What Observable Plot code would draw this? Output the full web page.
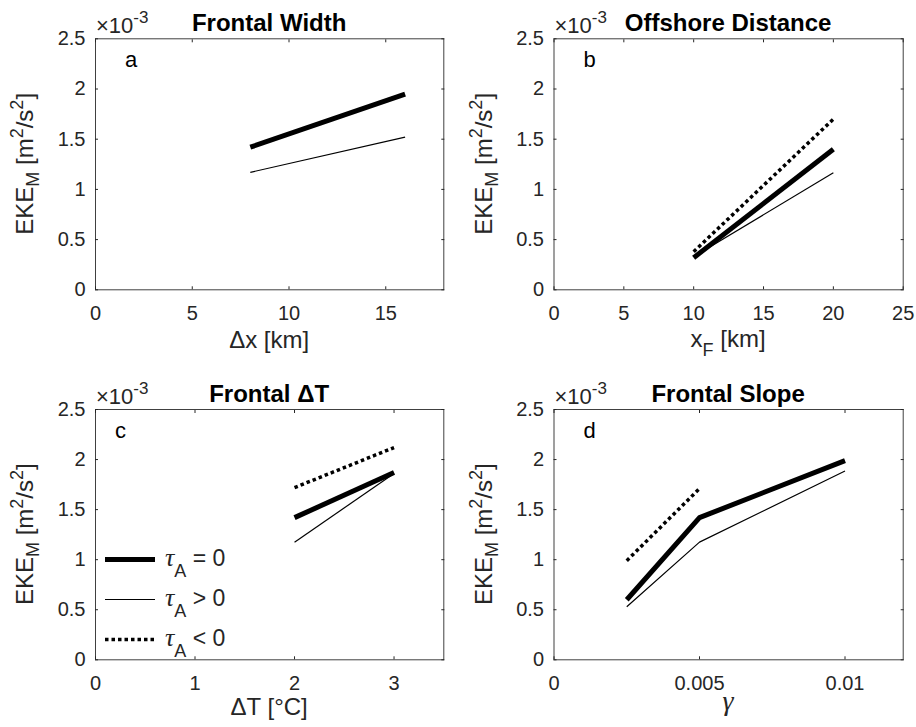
<!DOCTYPE html>
<html><head><meta charset="utf-8">
<script src="https://cdn.jsdelivr.net/npm/d3@7"></script>
<script src="https://cdn.jsdelivr.net/npm/@observablehq/plot@0.6"></script>
<style>
body{margin:0;background:#fff;}
#root{position:relative;width:916px;height:727px;overflow:hidden;background:#fff;}
.panel{position:absolute;}
</style></head><body><div id="root"></div>
<script>
// EKE_M values in units of 1e-3 m^2/s^2 (axis shows ×10^-3)
const aX = [8, 16];
const aZero = [1.42, 1.95];
const aPos = [1.17, 1.52];

const bX = [10, 20];
const bZero = [0.32, 1.40];
const bPos = [0.33, 1.165];
const bNeg = [0.38, 1.70];

const cX = [2, 3];
const cZero = [1.42, 1.87];
const cPos = [1.175, 1.86];
const cNeg = [1.72, 2.12];

const dX = [0.0025, 0.005, 0.01];
const dZero = [0.60, 1.42, 1.99];
const dPos = [0.53, 1.175, 1.885];
const dNeg = [0.99, 1.71];

const yTicks = [0, 0.5, 1, 1.5, 2, 2.5];
const aTicks = [0, 5, 10, 15];
const bTicks = [0, 5, 10, 15, 20, 25];
const cTicks = [0, 1, 2, 3];
const dTicks = [0, 0.005, 0.01];

const titles = ["Frontal Width", "Offshore Distance", "Frontal ΔT", "Frontal Slope"];
const letters = ["a", "b", "c", "d"];
const legendLabels = [["=", "0"], [">", "0"], ["<", "0"]];

const SANS = '"Liberation Sans", Arial, Helvetica, sans-serif';
const SERIF = '"Liberation Serif", "Times New Roman", serif';
const INK = "#262626";
const STY = {
  zero: {stroke: "#000", strokeWidth: 5},
  pos: {stroke: "#000", strokeWidth: 1.2},
  neg: {stroke: "#000", strokeWidth: 3.5, strokeDasharray: "3.5,3"}
};
const fmt = d => String(+(+d).toFixed(6));

function rows(xs, ys) { return ys.map((y, i) => ({x: xs[i], y})); }

function panel(cfg) {
  const marks = [Plot.frame({stroke: "#404040", strokeWidth: 1})];
  for (const [key, ys] of cfg.series) {
    marks.push(Plot.line(rows(cfg.x, ys), {x: "x", y: "y", ...STY[key], strokeLinecap: "butt", strokeLinejoin: "round"}));
  }
  marks.push(
    Plot.axisX({ticks: cfg.xTicks, anchor: "bottom", tickSize: -3, tickPadding: 18.5, tickFormat: fmt, fontSize: 20, color: INK, label: null}),
    Plot.axisX({ticks: cfg.xTicks, anchor: "top", tickSize: -3, tickFormat: () => "", color: INK, label: null}),
    Plot.axisY({ticks: yTicks, anchor: "left", tickSize: -3, tickPadding: 13, tickFormat: fmt, fontSize: 20, color: INK, label: null}),
    Plot.axisY({ticks: yTicks, anchor: "right", tickSize: -3, tickFormat: () => "", color: INK, label: null})
  );
  const svg = Plot.plot({
    width: cfg.w, height: cfg.h,
    marginLeft: cfg.ml, marginRight: cfg.mr, marginTop: cfg.mt, marginBottom: cfg.mb,
    x: {domain: cfg.xDomain, label: null},
    y: {domain: [0, 2.5], label: null},
    style: {fontFamily: SANS, color: INK, background: "transparent", overflow: "visible"},
    marks
  });
  const s = d3.select(svg);
  const pl = cfg.ml, pr = cfg.w - cfg.mr, pt = cfg.mt, pb = cfg.h - cfg.mb;
  const cx = (pl + pr) / 2, cy = (pt + pb) / 2;
  // title
  s.append("text").attr("x", cx).attr("y", pt - 7.5).attr("text-anchor", "middle")
    .attr("font-family", SANS).attr("font-weight", "bold").attr("font-size", 24).attr("fill", "#000")
    .text(cfg.title);
  // exponent
  const ex = s.append("text").attr("x", pl + 1).attr("y", pt - 5.5).attr("text-anchor", "start")
    .attr("font-family", SANS).attr("font-size", 22).attr("fill", INK);
  ex.append("tspan").text("×10");
  ex.append("tspan").attr("font-size", 17).attr("dy", -10).text("-3");
  // panel letter
  s.append("text").attr("x", pl + cfg.letterDx).attr("y", pt + 28.5).attr("text-anchor", "start")
    .attr("font-family", SANS).attr("font-size", 22).attr("fill", "#000").text(cfg.letter);
  // y label
  const yl = s.append("text").attr("transform", `translate(${pl - 62},${cy}) rotate(-90)`).attr("text-anchor", "middle")
    .attr("font-family", SANS).attr("font-size", 24).attr("fill", INK);
  yl.append("tspan").text("EKE");
  yl.append("tspan").attr("font-size", 18).attr("dy", 6).text("M");
  yl.append("tspan").attr("dy", -6).text(" [m");
  yl.append("tspan").attr("font-size", 18).attr("dy", -10).text("2");
  yl.append("tspan").attr("dy", 10).text("/s");
  yl.append("tspan").attr("font-size", 18).attr("dy", -10).text("2");
  yl.append("tspan").attr("dy", 10).text("]");
  // x label
  const xl = s.append("text").attr("x", cx).attr("y", pb + cfg.xlDy).attr("text-anchor", "middle")
    .attr("font-family", SANS).attr("font-size", 24).attr("fill", INK);
  cfg.xlabel(xl);
  if (cfg.legend) drawLegend(s, pl);
  const div = document.createElement("div");
  div.className = "panel";
  div.style.left = cfg.left + "px";
  div.style.top = cfg.top + "px";
  div.appendChild(svg);
  document.getElementById("root").appendChild(div);
}

function drawLegend(s, pl) {
  const keys = ["zero", "pos", "neg"];
  keys.forEach((k, i) => {
    const y = 199.5 + i * 40;
    const st = STY[k];
    s.append("line").attr("x1", pl + 10).attr("x2", pl + 60).attr("y1", y).attr("y2", y)
      .attr("stroke", st.stroke).attr("stroke-width", st.strokeWidth)
      .attr("stroke-dasharray", st.strokeDasharray || null);
    const t = s.append("text").attr("x", pl + 70).attr("y", y + 6).attr("text-anchor", "start")
      .attr("font-family", SANS).attr("font-size", 23).attr("fill", INK);
    t.append("tspan").attr("font-family", SERIF).attr("font-style", "italic").attr("font-size", 26).text("τ");
    t.append("tspan").attr("font-size", 18).attr("dy", 11).text("A");
    t.append("tspan").attr("dy", -11).text(" " + legendLabels[i][0] + " " + legendLabels[i][1]);
  });
}

panel({left: 0, top: 0, w: 458, h: 360, ml: 95, mr: 14.7, mt: 38.3, mb: 70.7,
  x: aX, xDomain: [0, 18], xTicks: aTicks, series: [["zero", aZero], ["pos", aPos]],
  title: titles[0], letter: letters[0], letterDx: 30, xlDy: 59,
  xlabel: t => { t.append("tspan").text("Δx [km]"); }});

panel({left: 458, top: 0, w: 458, h: 360, ml: 95.5, mr: 13.3, mt: 38.3, mb: 70.7,
  x: bX, xDomain: [0, 25], xTicks: bTicks, series: [["pos", bPos], ["zero", bZero], ["neg", bNeg]],
  title: titles[1], letter: letters[1], letterDx: 30, xlDy: 58,
  xlabel: t => { t.append("tspan").text("x"); t.append("tspan").attr("font-size", 18).attr("dy", 9).text("F"); t.append("tspan").attr("dy", -9).text(" [km]"); }});

panel({left: 0, top: 360, w: 458, h: 367, ml: 95, mr: 14.7, mt: 49, mb: 67.7,
  x: cX, xDomain: [0, 3.5], xTicks: cTicks, series: [["pos", cPos], ["zero", cZero], ["neg", cNeg]],
  title: titles[2], letter: letters[2], letterDx: 20, xlDy: 56, legend: true,
  xlabel: t => { t.append("tspan").text("ΔT [°C]"); }});

panel({left: 458, top: 360, w: 458, h: 367, ml: 95.5, mr: 13.3, mt: 49, mb: 67.7,
  x: dX, xDomain: [0, 0.012], xTicks: dTicks, series: [["pos", dPos], ["zero", dZero], ["neg", dNeg]],
  title: titles[3], letter: letters[3], letterDx: 30, xlDy: 51,
  xlabel: t => { t.attr("font-family", SERIF).attr("font-style", "italic").attr("font-size", 28).append("tspan").text("γ"); }});
</script>
</body></html>
